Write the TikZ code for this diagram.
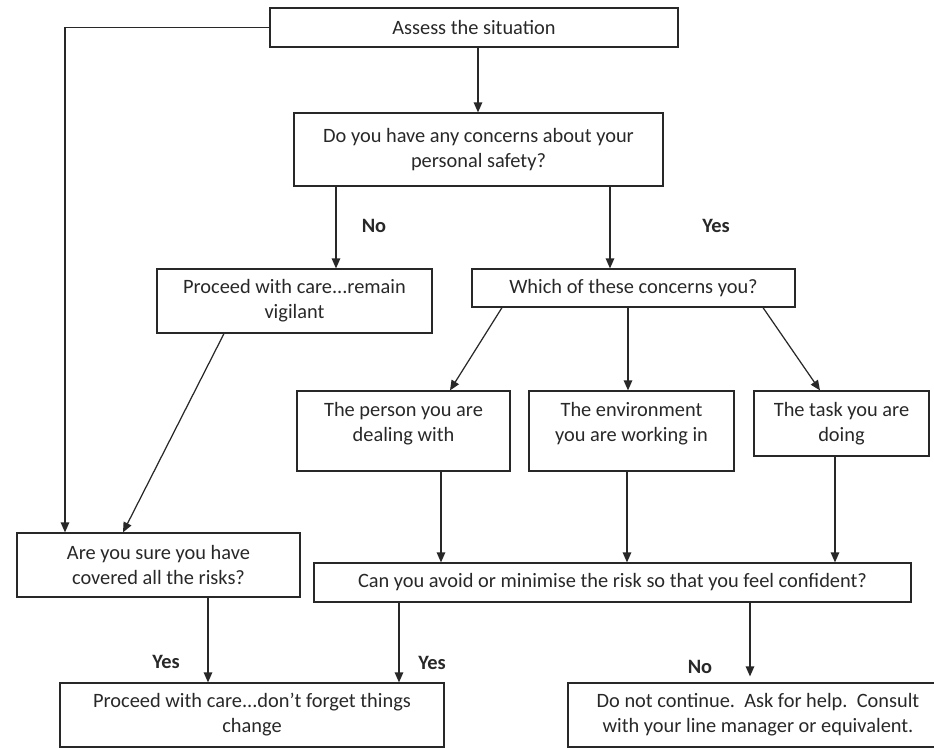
\documentclass[tikz,border=0pt]{standalone}
\usepackage{fontspec}
\setmainfont{Carlito}
\usepackage{tikz}
\usetikzlibrary{arrows.meta}
\definecolor{ink}{RGB}{40,40,40}

\begin{document}
\begin{tikzpicture}[x=0.02cm,y=-0.02cm,
	font=\fontsize{11.6}{14.2}\selectfont,
	box/.style={draw=ink,line width=0.7pt,text=ink,inner sep=0pt,align=center},
	lbl/.style={text=ink,font=\fontsize{11.6}{14.2}\selectfont\bfseries},
	arr/.style={draw=ink,line width=0.7pt,-{Triangle[length=0.2cm,width=0.17cm]}}]
	\useasboundingbox (0,0) rectangle (934,749);
	
	%TOP BOXES
	\node[box,minimum width=8.16cm,minimum height=0.78cm] (assess) at (474,27.5) {Assess the situation};
	\node[box,minimum width=7.38cm,minimum height=1.46cm] (safety) at (478.5,149.5) {Do you have any concerns about your\\personal safety?};
	\node[box,minimum width=5.5cm,minimum height=1.28cm] (careA) at (294.5,301) {Proceed with care...remain\\vigilant};
	\node[box,minimum width=6.46cm,minimum height=0.76cm] (which) at (633.5,288) {Which of these concerns you?};
	
	%CONCERNS
	\node[box,minimum width=4.26cm,minimum height=1.6cm,
		label={[text=ink,align=center,yshift=0.15cm]center:The person you are\\dealing with}] (person) at (403.5,431) {};
	\node[box,minimum width=4.1cm,minimum height=1.6cm,
		label={[text=ink,align=center,yshift=0.15cm]center:The environment\\you are working in}] (environ) at (631.5,431) {};
	\node[box,minimum width=3.5cm,minimum height=1.3cm] (task) at (841.5,423.5) {The task you are\\doing};
	
	%CHECKS AND OUTCOMES
	\node[box,minimum width=5.66cm,minimum height=1.28cm] (sure) at (158.5,565) {Are you sure you have\\covered all the risks?};
	\node[box,minimum width=11.94cm,minimum height=0.78cm] (avoid) at (612.5,582.5) {Can you avoid or minimise the risk so that you feel confident?};
	\node[box,minimum width=7.68cm,minimum height=1.28cm] (careB) at (252,715) {Proceed with care...don’t forget things\\change};
	\node[box,minimum width=7.6cm,minimum height=1.28cm] (stop) at (758,715) {Do not continue.\ \ Ask for help.\ \ Consult\\with your line manager or equivalent.};
	
	%ARROWS
	\draw[arr] (assess.west) -| (sure.north -| 65,0);
	\draw[arr] (assess.south -| 478,0) -- (safety.north -| 478,0);
	\draw[arr] (safety.south -| 336,0) -- (careA.north -| 336,0);
	\draw[arr] (safety.south -| 610,0) -- (which.north -| 610,0);
	\draw[arr] (which.south -| 502,0) -- (person.north -| 450,0);
	\draw[arr] (which.south -| 628,0) -- (environ.north -| 628,0);
	\draw[arr] (which.south -| 763,0) -- (task.north -| 820,0);
	\foreach \n/\x in {person/441,environ/627,task/835}{
		\draw[arr] (\n.south -| \x,0) -- (avoid.north -| \x,0);
	}
	\draw[arr] (careA.south -| 224,0) -- (sure.north -| 123,0);
	\draw[arr] (sure.south -| 208,0) -- (careB.north -| 208,0);
	\draw[arr] (avoid.south -| 399,0) -- (careB.north -| 399,0);
	\draw[arr,shorten >=0.12cm] (avoid.south -| 750,0) -- (stop.north -| 750,0);
	
	%YES / NO
	\node[lbl] (noTop) at (374,226) {No};
	\node[lbl] (yesTop) at (716,226) {Yes};
	\node[lbl] (yesLeft) at (166,662) {Yes};
	\node[lbl] (yesMid) at (432,663) {Yes};
	\node[lbl] (noBot) at (700,667) {No};
\end{tikzpicture}
\end{document}
